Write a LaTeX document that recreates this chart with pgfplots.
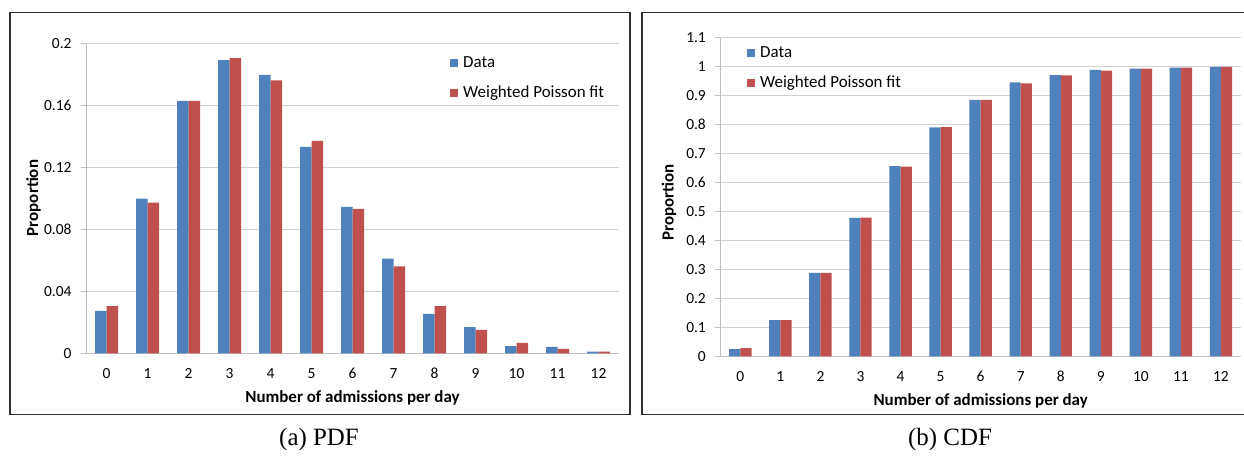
\documentclass[border=0pt]{standalone}
\usepackage{pgfplots}
\pgfplotsset{compat=1.18}
\usepackage{fontspec}
\setmainfont{Carlito}
\newfontfamily\capfont{Liberation Serif}
\definecolor{barblue}{HTML}{4F81BD}
\definecolor{barred}{HTML}{C0504D}
\definecolor{gridgray}{HTML}{D0D0D0}
\definecolor{axisgray}{HTML}{BFBFBF}
\definecolor{framegray}{HTML}{303030}

\pgfplotsset{
 excelbar/.style={
   scale only axis, ybar=0pt,
   xmin=-0.5, xmax=12.5, xtick={0,...,12},
   axis x line*=bottom, axis y line*=left,
   axis line style={draw=axisgray, line width=0.8bp},
   ymajorgrids, grid style={draw=gridgray, line width=0.8bp},
   tick align=outside, major tick length=5bp,
   ytick style={draw=axisgray, line width=0.8bp},
   xtick style={draw=none},
   tick label style={font=\fontsize{15.5}{18}\selectfont, text=black},
   /pgf/number format/assume math mode=true,
   xticklabel style={anchor=center, yshift=-15bp},
   yticklabel style={anchor=east, inner sep=0pt, xshift=-9.3bp},
   label style={font=\bfseries\fontsize{17}{20}\selectfont},
   legend cell align=left,
   legend image code/.code={\fill[##1] (0bp,-4bp) rectangle (8bp,4bp);},
   legend style={draw=none, fill=none, font=\fontsize{17}{20}\selectfont,
     anchor=north west, inner sep=0pt, row sep=15bp, nodes={inner sep=1bp},
     /tikz/every odd column/.append style={column sep=4bp}},
   clip=false,
 }
}

\begin{document}
\begin{tikzpicture}
\useasboundingbox (0bp,0bp) rectangle (1244bp,456bp);
\draw[framegray, line width=1.1bp] (10bp,41.7bp) rectangle (630bp,443.3bp);
\draw[framegray, line width=1.1bp] (642bp,41.7bp) rectangle (1250bp,443.3bp);

% (a) PDF
\begin{axis}[excelbar,
  at={(86bp,102.7bp)}, anchor=south west,
  width=533bp, height=310bp,
  ymin=0, ymax=0.2,
  ytick={0,0.04,0.08,0.12,0.16,0.2},
  yticklabels={0,0.04,0.08,0.12,0.16,0.2},
  bar width=11.5bp,
  xlabel={Number of admissions per day},
  ylabel={Proportion},
  xlabel style={at={(axis description cs:0.5,-0.1435)}, anchor=center},
  ylabel style={at={(axis description cs:-0.0987,0.501)}, anchor=center},
  legend style={at={(axis description cs:0.683,0.961)}},
]
\addplot[fill=barblue, draw=none] coordinates {
(0,0.0273) (1,0.0998) (2,0.1628) (3,0.1892) (4,0.1796) (5,0.1331) (6,0.0944)
(7,0.0611) (8,0.0254) (9,0.0169) (10,0.0047) (11,0.0041) (12,0.0010)};
\addplot[fill=barred, draw=none] coordinates {
(0,0.0304) (1,0.0972) (2,0.1628) (3,0.1905) (4,0.1761) (5,0.1370) (6,0.0931)
(7,0.0561) (8,0.0305) (9,0.0151) (10,0.0067) (11,0.0028) (12,0.0010)};
\legend{Data, Weighted Poisson fit}
\end{axis}

% (b) CDF
\begin{axis}[excelbar,
  at={(720.3bp,99.7bp)}, anchor=south west,
  width=520.7bp, height=318.6bp,
  ymin=0, ymax=1.1,
  ytick={0,0.1,0.2,0.3,0.4,0.5,0.6,0.7,0.8,0.9,1,1.1},
  yticklabels={0,0.1,0.2,0.3,0.4,0.5,0.6,0.7,0.8,0.9,1,1.1},
  bar width=11.2bp,
  xlabel={Number of admissions per day},
  ylabel={Proportion},
  xlabel style={at={(axis description cs:0.5,-0.1385)}, anchor=center},
  ylabel style={at={(axis description cs:-0.0985,0.4827)}, anchor=center},
  legend style={at={(axis description cs:0.0513,0.975)}},
]
\addplot[fill=barblue, draw=none] coordinates {
(0,0.025) (1,0.125) (2,0.288) (3,0.478) (4,0.657) (5,0.790) (6,0.885)
(7,0.946) (8,0.971) (9,0.989) (10,0.993) (11,0.997) (12,0.999)};
\addplot[fill=barred, draw=none] coordinates {
(0,0.028) (1,0.125) (2,0.288) (3,0.479) (4,0.655) (5,0.791) (6,0.885)
(7,0.942) (8,0.970) (9,0.986) (10,0.993) (11,0.997) (12,0.999)};
\legend{Data, Weighted Poisson fit}
\end{axis}

\node[font=\capfont\fontsize{25}{30}\selectfont] at (319bp,16bp) {(a) PDF};
\node[font=\capfont\fontsize{25}{30}\selectfont] at (950bp,16bp) {(b) CDF};
\end{tikzpicture}
\end{document}
